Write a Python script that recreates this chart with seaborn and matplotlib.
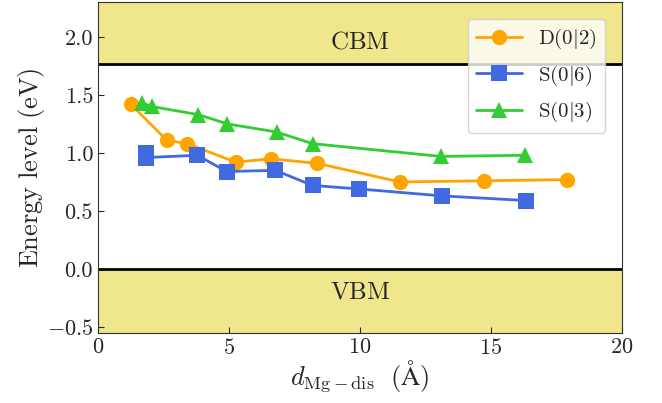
import matplotlib
matplotlib.use("Agg")
import matplotlib.pyplot as plt
import seaborn as sns
import pandas as pd

# data
d02_x = [1.25, 2.62, 3.41, 5.26, 6.60, 8.37, 11.53, 14.73, 17.89]
d02_y = [1.42, 1.11, 1.08, 0.92, 0.95, 0.91, 0.75, 0.76, 0.77]
s06_x = [1.83, 1.83, 3.79, 4.91, 6.77, 8.19, 9.95, 13.13, 16.34]
s06_y = [1.00, 0.96, 0.98, 0.84, 0.85, 0.72, 0.69, 0.63, 0.59]
s03_x = [1.69, 2.05, 3.83, 4.94, 6.82, 8.19, 13.08, 16.31]
s03_y = [1.43, 1.40, 1.33, 1.25, 1.18, 1.08, 0.97, 0.98]
labels = ["D(0|2)", "S(0|6)", "S(0|3)"]
legend_labels = [r"$\mathrm{D}(0|2)$", r"$\mathrm{S}(0|6)$", r"$\mathrm{S}(0|3)$"]
cbm = 1.77
vbm = 0.0

sns.set_style("ticks")
plt.rcParams["font.family"] = "serif"
plt.rcParams["font.serif"] = ["cmr10"]
plt.rcParams["mathtext.fontset"] = "cm"
plt.rcParams["axes.formatter.use_mathtext"] = True
plt.rcParams["axes.unicode_minus"] = True

frames = []
for lab, xs, ys in zip(labels, [d02_x, s06_x, s03_x], [d02_y, s06_y, s03_y]):
    frames.append(pd.DataFrame({"x": xs, "y": ys, "series": lab}))
df = pd.concat(frames, ignore_index=True)

fig = plt.figure(figsize=(6.62, 4.03), dpi=100)
ax = fig.add_axes([0.148, 0.174, 0.7916, 0.821])

ax.axhspan(cbm, 2.3, color="khaki", zorder=0)
ax.axhspan(-0.55, vbm, color="khaki", zorder=0)
ax.axhline(cbm, color="black", lw=2, zorder=1)
ax.axhline(vbm, color="black", lw=2, zorder=1)

palette = {"D(0|2)": "orange", "S(0|6)": "royalblue", "S(0|3)": "limegreen"}
markers = {"D(0|2)": "o", "S(0|6)": "s", "S(0|3)": "^"}
sns.lineplot(data=df, x="x", y="y", hue="series", style="series", hue_order=labels,
             style_order=labels, palette=palette, markers=markers, dashes=False,
             estimator=None, sort=False, units="series", markersize=11, lw=2,
             markeredgewidth=0, ax=ax, zorder=3)

ax.text(10, 1.95, r"$\mathrm{CBM}$", ha="center", va="center", fontsize=18)
ax.text(10, -0.2, r"$\mathrm{VBM}$", ha="center", va="center", fontsize=18)

ax.set_xlim(0, 20)
ax.set_ylim(-0.55, 2.3)
ax.set_xticks([0, 5, 10, 15, 20])
ax.set_yticks([-0.5, 0.0, 0.5, 1.0, 1.5, 2.0])
ax.set_yticklabels(["$-0.5$", "0.0", "0.5", "1.0", "1.5", "2.0"])
ax.tick_params(direction="in", labelsize=16, length=4)
ax.set_xlabel(r"$d_{\mathrm{Mg-dis}}\ \ (\mathrm{\AA})$", fontsize=19, labelpad=0)
ax.set_ylabel(r"$\mathrm{Energy\ level\ (eV)}$", fontsize=19, labelpad=0)
for sp in ax.spines.values():
    sp.set_color("#333333")

handles, _ = ax.get_legend_handles_labels()
ax.legend(handles[-3:], legend_labels, title=None, loc="upper right", fontsize=15,
          handlelength=2.2, borderaxespad=0.8, labelspacing=0.6)

fig.savefig("out.png", dpi=100)
